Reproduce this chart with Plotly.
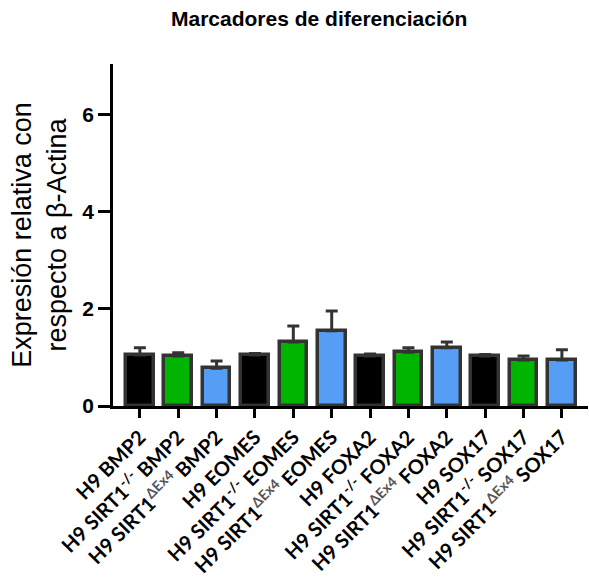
import plotly.graph_objects as go

# Sample labels (HTML for superscripts)
SUP_KO = "<sup>-/-</sup>"
SUP_DEX = "<sup><span style='color:#555555'>ΔEx4</span></sup>"
categories = [
    "H9 BMP2", f"H9 SIRT1{SUP_KO} BMP2", f"H9 SIRT1{SUP_DEX} BMP2",
    "H9 EOMES", f"H9 SIRT1{SUP_KO} EOMES", f"H9 SIRT1{SUP_DEX} EOMES",
    "H9 FOXA2", f"H9 SIRT1{SUP_KO} FOXA2", f"H9 SIRT1{SUP_DEX} FOXA2",
    "H9 SOX17", f"H9 SIRT1{SUP_KO} SOX17", f"H9 SIRT1{SUP_DEX} SOX17",
]
means = [1.05, 1.03, 0.78, 1.05, 1.32, 1.55, 1.03, 1.11, 1.20, 1.03, 0.95, 0.95]
errors = [0.15, 0.07, 0.15, 0.03, 0.33, 0.41, 0.04, 0.09, 0.12, 0.03, 0.08, 0.21]
group_colors = ["#000000", "#00b400", "#559df5"]
colors = [group_colors[i % 3] for i in range(len(categories))]
y_ticks = [0, 2, 4, 6]

x_pos = list(range(len(categories)))

fig = go.Figure()
fig.add_trace(go.Bar(
    x=x_pos,
    y=means,
    width=0.72,
    marker=dict(color=colors, line=dict(color="#333333", width=3.5)),
    error_y=dict(
        type="data", symmetric=False, array=errors,
        arrayminus=[0] * len(errors),
        color="#333333", thickness=3, width=6,
    ),
    showlegend=False,
))

fig.update_layout(
    width=589, height=588,
    margin=dict(l=113, r=1, t=64, b=182),
    plot_bgcolor="white", paper_bgcolor="white",
    title=dict(
        text="<b>Marcadores de diferenciación</b>",
        x=0.542, xanchor="center", y=0.968, yanchor="middle",
        font=dict(family="Arial", size=21, color="black"),
    ),
    bargap=0,
)
fig.update_xaxes(
    range=[-0.7, 11.68],
    tickvals=x_pos, ticktext=categories, tickangle=-45,
    automargin=False,
    showline=True, linecolor="black", linewidth=2.5,
    ticks="outside", ticklen=9, tickwidth=2.5, tickcolor="black",
    tickfont=dict(family="Lato", size=20, color="black", weight="bold"),
    showgrid=False, zeroline=False,
)
fig.update_yaxes(
    range=[0, 7.05],
    tickvals=y_ticks,
    automargin=False,
    showline=True, linecolor="black", linewidth=2.5,
    ticks="outside", ticklen=12, tickwidth=2.5, tickcolor="black",
    tickfont=dict(family="Arial", size=21, color="black", weight="bold"),
    showgrid=False, zeroline=False,
    title=dict(
        text="Expresión relativa con<br>respecto a β-Actina",
        font=dict(family="Arial", size=27, color="black"),
        standoff=8,
    ),
)

fig.write_html("out.html")
